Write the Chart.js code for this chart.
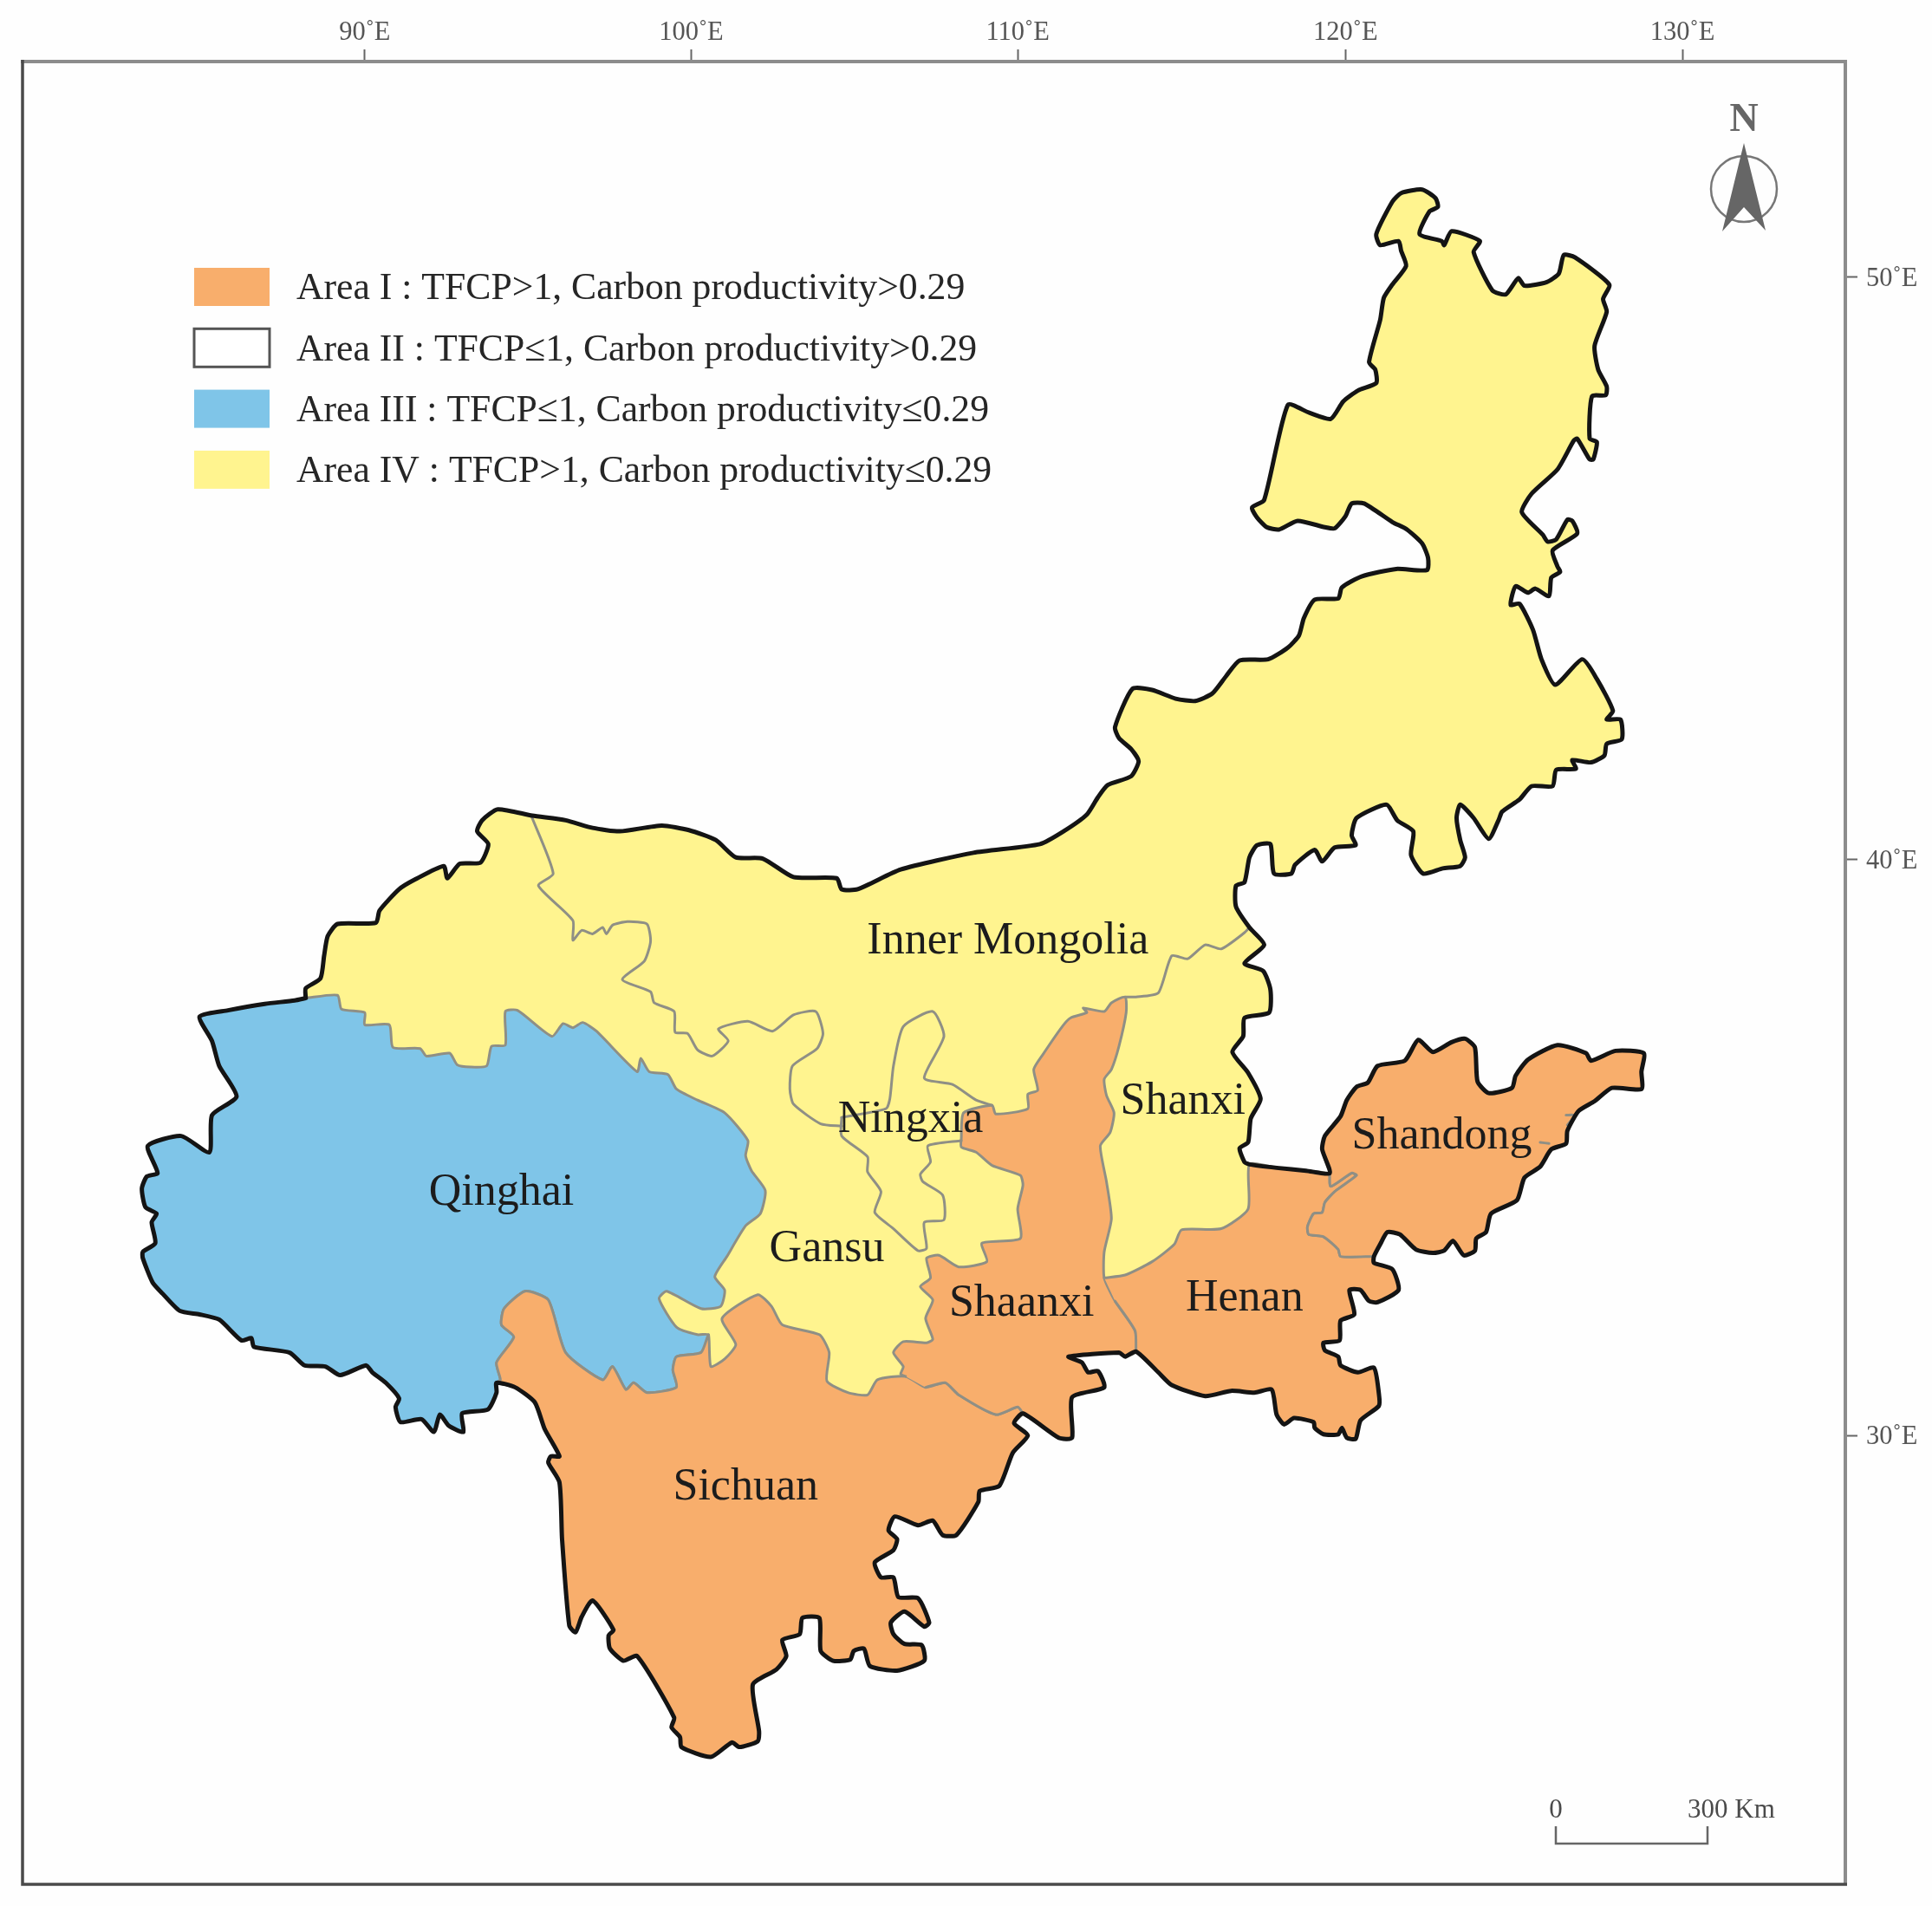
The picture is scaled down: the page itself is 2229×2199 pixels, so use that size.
<!DOCTYPE html>
<html>
<head>
<meta charset="utf-8">
<title>Carbon productivity areas</title>
<script src="https://cdn.jsdelivr.net/npm/chart.js@4"></script>
<style>
    html, body { margin: 0; padding: 0; background: #fefefe; }
    canvas { display: block; }
</style>
</head>
<body>
<canvas id="mapChart" width="2229" height="2199"></canvas>
<script>
// Axis ticks (the map projection bends the graticule a little, so ticks are not evenly spaced)
const lonTicks = [90, 99.96, 109.92, 119.92, 130.2];
const lonLabels = ['90˚E', '100˚E', '110˚E', '120˚E', '130˚E'];
const latTicks = [50, 39.94, 30];
const latLabels = ['50˚E', '40˚E', '30˚E'];

// Legend
const areaLabels = [
    'Area I : TFCP>1, Carbon productivity>0.29',
    'Area II : TFCP≤1, Carbon productivity>0.29',
    'Area III : TFCP≤1, Carbon productivity≤0.29',
    'Area IV : TFCP>1, Carbon productivity≤0.29'
];
const areaColors = ['#f8ae6c', '#ffffff', '#7fc5e8', '#fff48f'];

// Province names and where they sit, lon / lat
const regionNames = ['Inner Mongolia', 'Qinghai', 'Ningxia', 'Gansu', 'Shaanxi', 'Shanxi', 'Shandong', 'Henan', 'Sichuan'];
const regionLon = [109.62, 94.17, 106.65, 104.10, 110.04, 114.96, 122.86, 116.84, 101.62];
const regionLat = [38.57, 34.23, 35.49, 33.26, 32.32, 35.81, 35.21, 32.40, 29.15];

// Boundary pieces as [lon, lat]. Outer border runs clockwise.
const northOuter = [
    [88.20,37.55],[88.20,37.72],[88.65,37.89],[88.76,38.28],[88.87,38.62],[89.17,38.83],[90.34,38.85],[90.45,39.06],
    [91.05,39.43],[91.54,39.60],[92.41,39.83],[92.52,39.62],[92.90,39.87],[93.53,39.89],[93.77,40.21],[93.43,40.43],
    [93.58,40.62],[94.06,40.81],[95.11,40.70],[96.13,40.62],[96.95,40.49],[97.78,40.43],[99.06,40.53],[99.89,40.45],
    [100.71,40.28],[101.32,39.98],[102.14,39.96],[103.08,39.64],[104.40,39.62],[104.55,39.43],[105.04,39.43],[106.35,39.77],
    [108.57,40.06],[110.60,40.21],[111.32,40.43],[112.03,40.72],[112.37,41.02],[112.67,41.23],[113.38,41.38],[113.61,41.64],
    [113.38,41.85],[113.01,42.04],[112.89,42.23],[113.42,42.89],[114.02,42.87],[114.74,42.72],[115.34,42.68],[115.86,42.81],
    [116.28,43.11],[116.69,43.38],[117.56,43.40],[118.16,43.60],[118.50,43.81],[118.65,44.11],[118.98,44.43],[119.70,44.45],
    [119.81,44.64],[120.41,44.83],[121.47,44.96],[122.41,44.94],[122.44,45.15],[122.26,45.40],[121.80,45.64],[121.35,45.77],
    [120.49,46.09],[120.11,46.09],[119.92,45.87],[119.59,45.66],[119.29,45.68],[118.46,45.79],[117.89,45.64],[117.52,45.68],
    [117.22,45.85],[117.07,46.02],[117.44,46.15],[118.16,47.79],[118.80,47.66],[119.47,47.55],[119.85,47.85],[120.30,48.04],
    [120.86,48.17],[120.83,48.40],[120.64,48.53],[120.98,49.26],[121.09,49.64],[121.35,49.87],[121.77,50.19],[121.62,50.45],
    [121.54,50.62],[120.98,50.55],[120.86,50.74],[121.35,51.30],[121.62,51.45],[122.26,51.51],[122.67,51.36],[122.74,51.21],
    [122.48,51.13],[122.18,50.74],[122.86,50.62],[122.93,50.55],[123.16,50.79],[124.02,50.62],[123.83,50.43],[124.40,49.77],
    [124.81,49.70],[125.19,49.98],[125.38,49.85],[126.05,49.91],[126.43,50.06],[126.58,50.38],[126.92,50.34],[127.97,49.87],
    [127.78,49.62],[127.89,49.40],[127.52,48.81],[127.63,48.40],[127.89,48.11],[127.86,47.96],[127.44,47.94],[127.37,47.21],
    [127.59,47.15],[127.48,46.85],[127.37,46.85],[126.99,47.21],[126.88,47.17],[126.39,46.68],[125.60,46.26],[125.30,45.94],
    [125.94,45.55],[126.09,45.43],[126.35,45.47],[126.69,45.81],[126.84,45.79],[126.99,45.57],[126.24,45.28],[126.39,45.00],
    [126.47,44.91],[126.20,44.81],[126.13,44.49],[125.71,44.62],[125.49,44.55],[125.11,44.66],[124.96,44.34],[125.23,44.36],
    [125.64,43.91],[125.90,43.40],[126.32,42.96],[127.14,43.40],[127.59,43.06],[128.08,42.51],[127.89,42.36],[128.31,42.36],
    [128.35,42.02],[127.89,41.94],[127.82,41.74],[127.41,41.62],[126.84,41.66],[126.95,41.51],[126.35,41.49],[126.24,41.21],
    [125.60,41.21],[125.23,40.98],[124.70,40.77],[124.59,40.62],[124.29,40.30],[123.83,40.66],[123.42,40.89],[123.31,40.66],
    [123.42,40.28],[123.57,39.98],[123.42,39.83],[122.89,39.79],[122.29,39.70],[121.92,40.02],[121.99,40.43],[121.50,40.62],
    [121.17,40.89],[120.26,40.66],[120.11,40.36],[120.23,40.19],[119.59,40.15],[119.21,39.91],[118.98,40.11],[118.38,39.85],
    [118.27,39.70],[117.74,39.70],[117.63,40.21],[117.22,40.19],[116.99,39.98],[116.84,39.55],[116.58,39.49],[116.58,39.13],
    [116.99,38.77],[117.44,38.47],[116.84,38.15],[117.41,38.02],[117.63,37.70],[117.59,37.30],[116.84,37.21],[116.80,36.89],
    [116.47,36.62],[116.95,36.26],[117.33,35.81],[117.03,35.47],[116.95,35.06],[116.69,34.96],[116.84,34.72],[116.99,34.68]
];
const henanNorth = [[117.82,34.62],[118.72,34.57],[119.44,34.53]];
const shandongOuter = [
    [119.21,34.94],[119.29,35.17],[119.77,35.51],[119.96,35.79],[120.26,36.02],[120.60,36.09],[120.90,36.38],[121.73,36.47],
    [122.14,36.83],[122.59,36.62],[123.16,36.79],[123.57,36.85],[123.87,36.70],[123.95,36.11],[124.29,35.91],[125.00,36.00],
    [125.11,36.21],[125.49,36.49],[126.39,36.74],[127.26,36.60],[127.41,36.47],[128.16,36.64],[129.02,36.60],[128.95,36.28],
    [128.95,35.98],[128.05,36.00],[127.52,35.77],[127.03,35.60],[126.69,35.26],[126.65,35.04],[126.20,34.94],[125.86,34.64],
    [125.38,34.45],[125.15,34.06],[124.36,33.83],[124.21,33.51],[123.91,33.40],[123.87,33.19],[123.53,33.11],[123.20,33.36],
    [122.93,33.19],[122.59,33.15],[122.07,33.21],[121.58,33.47],[121.20,33.51],[120.98,33.30],[120.79,33.09]
];
const henanOuter = [
    [120.79,32.98],[121.35,32.87],[121.54,32.51],[120.90,32.30],[120.64,32.32],[120.38,32.51],[120.04,32.51],[120.19,32.09],
    [119.77,31.98],[119.74,31.64],[119.25,31.60],[119.29,31.47],[119.70,31.36],[119.77,31.21],[120.30,31.09],[120.79,31.17],
    [120.94,30.72],[120.94,30.51],[120.38,30.26],[120.23,29.94],[119.96,29.96],[119.81,30.13],[119.70,30.02],[119.25,30.02],
    [118.98,30.13],[118.95,30.23],[118.35,30.30],[118.05,30.19],[117.82,30.36],[117.67,30.79],[117.14,30.74],[116.43,30.77],
    [115.64,30.68],[114.62,30.87],[114.21,31.09],[113.53,31.45]
];
const shaanxiSouth = [
    [113.20,31.36],[113.01,31.43],[111.47,31.36],[111.88,31.26],[112.07,31.09],[112.37,31.11],[112.56,30.83],[111.58,30.66],
    [111.58,29.96],[111.17,29.96],[110.08,30.38]
];
const sichuanOuter = [
    [109.81,30.21],[110.23,30.00],[109.77,29.70],[109.36,29.13],[108.76,29.04],[108.72,28.85],[108.05,28.28],[107.63,28.28],
    [107.33,28.53],[106.88,28.45],[106.17,28.60],[105.98,28.36],[106.24,28.21],[106.13,28.02],[105.56,27.81],[105.75,27.55],
    [106.13,27.55],[106.28,27.21],[106.88,27.19],[107.22,26.77],[107.07,26.70],[106.47,26.96],[106.05,26.77],[106.13,26.57],
    [106.47,26.40],[106.99,26.38],[107.07,26.11],[106.24,25.94],[105.41,26.02],[105.23,26.32],[104.92,26.28],[104.81,26.13],
    [104.29,26.11],[103.91,26.28],[103.87,26.85],[103.35,26.85],[103.27,26.57],[102.74,26.47],[102.86,26.19],[102.56,25.96],
    [101.84,25.70],[102.03,24.89],[101.99,24.72],[101.43,24.62],[101.20,24.70],[100.56,24.45],[99.66,24.62],[99.62,24.79],
    [99.36,24.96],[99.44,25.13],[98.31,26.19],[97.89,26.11],[97.48,26.32],[97.44,26.55],[97.59,26.64],[96.95,27.15],
    [96.62,26.87],[96.43,26.60],[96.24,26.72],[96.02,28.21],[95.94,29.19],[95.60,29.53],[95.68,29.64],[95.94,29.64],
    [95.49,30.11],[95.19,30.57],[94.59,30.83],[94.02,30.91]
];
const qinghaiOuter = [
    [94.02,30.74],[93.76,30.45],[92.97,30.38],[93.01,30.06],[92.56,30.17],[92.29,30.36],[92.11,30.06],[91.73,30.28],
    [91.09,30.23],[90.94,30.49],[91.05,30.64],[90.64,30.91],[90.23,31.09],[90.04,31.21],[89.25,31.04],[88.80,31.19],
    [88.16,31.21],[87.71,31.43],[86.62,31.53],[86.54,31.68],[86.24,31.64],[85.56,32.00],[84.96,32.09],[84.36,32.15],
    [83.83,32.45],[83.53,32.64],[83.23,33.06],[83.23,33.17],[83.61,33.32],[83.50,33.68],[83.65,33.83],[83.31,33.94],
    [83.20,34.26],[83.35,34.47],[83.68,34.53],[83.38,35.00],[84.40,35.17],[85.26,34.89],[85.34,35.53],[86.09,35.85],
    [85.56,36.38],[85.34,36.81],[84.96,37.23],[85.83,37.34],[86.95,37.45],[87.86,37.51],[88.20,37.55]
];

// Inner boundaries
const qinghaiYellow = [
    [88.20,37.55],[89.17,37.60],[89.29,37.36],[90.00,37.30],[90.00,37.09],[90.75,37.09],[90.86,36.70],[91.69,36.68],
    [91.88,36.55],[92.59,36.60],[92.82,36.40],[93.23,36.36],[93.72,36.38],[93.87,36.72],[94.29,36.74],[94.29,37.32],
    [94.66,37.34],[95.71,36.89],[96.05,37.11],[96.35,37.04],[96.65,37.13],[97.07,36.98],[98.31,36.28],[98.42,36.51],
    [98.68,36.28],[99.25,36.23],[99.51,35.98],[100.15,35.79],[100.98,35.57],[101.69,35.09],[101.62,34.83],[101.80,34.57],
    [102.22,34.23],[102.07,33.83],[101.62,33.62],[101.05,33.09],[100.68,32.74],[100.98,32.51],[100.86,32.23],[100.26,32.19],
    [99.21,32.49],[98.98,32.36],[99.51,31.87],[100.15,31.74],[100.49,31.74]
];
const qinghaiSichuan = [
    [100.26,31.43],[99.51,31.36],[99.40,31.13],[99.51,30.83],[98.61,30.74],[98.20,30.91],[97.97,30.79],[97.56,31.19],
    [97.26,30.96],[96.13,31.43],[95.60,32.34],[94.89,32.49],[94.25,32.19],[94.17,31.91],[94.55,31.70],[94.02,31.26],
    [94.14,30.96],[94.02,30.91]
];
const sichuanYellow = [
    [100.49,31.74],[100.56,31.19],[100.98,31.32],[101.32,31.57],[100.90,32.02],[101.99,32.43],[102.41,32.23],[102.74,31.91],
    [103.87,31.74],[104.17,31.43],[104.10,30.94],[104.74,30.74],[105.34,30.70],[105.64,30.96],[106.50,31.02]
];
const sichuanShaanxi = [[107.11,30.83],[107.71,30.91],[108.12,30.70],[109.25,30.36],[109.92,30.49],[110.08,30.38]];
const shaanxiYellow = [
    [106.50,31.02],[106.35,31.06],[106.43,31.19],[106.13,31.43],[106.43,31.62],[107.14,31.60],[107.33,31.66],[107.11,32.02],
    [107.33,32.34],[106.95,32.57],[107.26,32.72],[107.14,33.06],[107.52,33.11],[108.12,32.91],[108.98,33.00],[108.83,33.32],
    [110.00,33.40],[109.92,33.91],[110.08,34.32],[110.00,34.49],[109.14,34.66],[108.65,34.89],[108.20,34.98],[108.20,35.13],
    [108.27,35.57],[109.14,35.70],[109.25,35.55],[110.23,35.64],[110.23,35.89],[110.53,35.96],[110.41,36.32],[110.68,36.57],
    [111.28,37.06],[111.54,37.21],[112.03,37.30],[111.92,37.38],[112.56,37.32],[112.78,37.47],[113.20,37.57]
];
const shaanxiShanxi = [
    [113.23,37.30],[113.01,36.72],[112.78,36.32],[112.56,36.15],[112.63,35.87],[112.86,35.57],[112.74,35.23],[112.44,35.00],
    [112.63,34.38],[112.78,33.74],[112.56,33.17],[112.56,32.72]
];
const shaanxiHenan = [[112.89,32.32],[113.50,31.81],[113.53,31.45]];
const shanxiHenan = [
    [112.56,32.72],[113.20,32.77],[114.02,33.00],[114.70,33.30],[114.92,33.55],[116.13,33.57],[116.95,33.91],[116.99,34.68]
];
const shandongHenan = [
    [119.44,34.53],[119.47,34.30],[120.11,34.53],[120.26,34.49],[119.59,34.21],[119.29,34.02],[119.21,33.85],[118.95,33.83],
    [118.76,33.60],[118.80,33.47],[119.25,33.43],[119.70,33.21],[119.77,33.09],[120.79,33.09]
];
const shanxiMongolia = [
    [113.20,37.57],[113.53,37.57],[114.21,37.64],[114.62,38.28],[115.11,38.23],[115.64,38.47],[116.13,38.40],[116.84,38.68],[116.99,38.77]
];
const gansuMongolia = [
    [95.08,40.70],[95.75,39.70],[95.30,39.49],[96.35,38.89],[96.35,38.55],[96.62,38.72],[96.95,38.66],[97.26,38.77],
    [97.37,38.66],[97.56,38.81],[98.01,38.87],[98.61,38.83],[98.72,38.53],[98.53,38.19],[97.86,37.87],[98.72,37.66],
    [98.83,37.47],[99.44,37.32],[99.47,36.96],[99.85,36.94],[100.15,36.66],[100.60,36.55],[101.09,36.81],[100.79,37.02],
    [101.69,37.15],[102.44,36.98],[103.08,37.26],[103.76,37.32],[103.98,36.94],[103.80,36.68],[103.05,36.38],[102.97,35.98],
    [103.08,35.72],[103.91,35.38],[104.55,35.34]
];
const ningxiaNorth = [
    [104.55,35.49],[105.90,35.64],[106.02,35.81],[106.13,36.38],[106.43,37.06],[107.33,37.32],[107.67,36.89],[107.07,36.17],
    [107.93,36.06],[108.65,35.79],[109.14,35.70]
];
const ningxiaSouth = [
    [104.55,35.49],[104.55,35.17],[105.34,34.81],[105.34,34.55],[105.75,34.21],[105.56,33.85],[106.13,33.57],[106.88,33.19],
    [107.14,33.23],[107.07,33.68],[107.67,33.72],[107.63,34.15],[107.03,34.38],[106.95,34.51],[107.26,34.72],[107.18,35.00],[108.20,35.09]
];
const shandongMarkA = [[125.86,35.06],[126.13,35.04]];
const shandongMarkB = [[126.65,35.53],[126.92,35.53],[126.69,35.36]];

// Whole provinces, stitched from the pieces above
const rev = path => path.slice().reverse();
const qinghai = [...qinghaiYellow, ...qinghaiSichuan, ...qinghaiOuter];
const sichuan = [...rev(qinghaiSichuan), ...sichuanYellow, ...sichuanShaanxi, ...sichuanOuter];
const shaanxi = [...shaanxiYellow, ...shaanxiShanxi, ...shaanxiHenan, ...shaanxiSouth, ...rev(sichuanShaanxi)];
const henan = [...shanxiHenan, ...henanNorth, ...shandongHenan, ...henanOuter, ...rev(shaanxiHenan)];
const shandong = [[119.44,34.53], ...shandongOuter, ...rev(shandongHenan)];
const wholeOutline = [...northOuter, ...henanNorth, ...shandongOuter, ...henanOuter, ...shaanxiSouth, ...sichuanOuter, ...qinghaiOuter];

const innerLine = '#8f8f85';
const outerLine = '#141414';

function polygon(label, path, fillColor, lineColor, lineWidth) {
    return {
        label: label,
        data: path.map(p => ({ x: p[0], y: p[1] })),
        showLine: true,
        fill: fillColor ? 'shape' : false,
        backgroundColor: fillColor || 'transparent',
        borderColor: lineColor,
        borderWidth: lineWidth,
        borderJoinStyle: 'round',
        borderCapStyle: 'round',
        pointRadius: 0,
        tension: 0.2
    };
}

// Painter order, first entry lies at the bottom
const layers = [
    polygon('Base', wholeOutline, areaColors[3], 'transparent', 0),
    polygon('Qinghai', qinghai, areaColors[2], innerLine, 3),
    polygon('Sichuan', sichuan, areaColors[0], innerLine, 3),
    polygon('Shaanxi', shaanxi, areaColors[0], innerLine, 3),
    polygon('Henan', henan, areaColors[0], innerLine, 3),
    polygon('Shandong', shandong, areaColors[0], innerLine, 3),
    polygon('Shanxi north', shanxiMongolia, null, innerLine, 3),
    polygon('Gansu north', gansuMongolia, null, innerLine, 3),
    polygon('Ningxia north', ningxiaNorth, null, innerLine, 3),
    polygon('Ningxia south', ningxiaSouth, null, innerLine, 3),
    polygon('Mark A', shandongMarkA, null, innerLine, 3),
    polygon('Mark B', shandongMarkB, null, innerLine, 3),
    polygon('Outline', wholeOutline, null, outerLine, 5)
];

// Everything around the marks: frame, province names, legend, north arrow, scale bar
const mapDecor = {
    id: 'mapDecor',
    afterDraw(chart) {
        const ctx = chart.ctx;
        const area = chart.chartArea;
        const xs = chart.scales.x;
        const ys = chart.scales.y;
        ctx.save();

        // left and bottom of the frame are darker than the axis sides
        ctx.strokeStyle = '#4a4a4a';
        ctx.lineWidth = 3.5;
        ctx.beginPath();
        ctx.moveTo(area.left, area.top - 2);
        ctx.lineTo(area.left, area.bottom);
        ctx.lineTo(area.right + 2, area.bottom);
        ctx.stroke();

        ctx.fillStyle = '#1c1c1c';
        ctx.font = '52px "Liberation Serif"';
        ctx.textAlign = 'center';
        ctx.textBaseline = 'middle';
        regionNames.forEach((name, i) => {
            ctx.fillText(name, xs.getPixelForValue(regionLon[i]), ys.getPixelForValue(regionLat[i]) + 3);
        });

        // legend
        ctx.textAlign = 'left';
        ctx.font = '43.7px "Liberation Serif"';
        areaLabels.forEach((text, i) => {
            const top = 309 + i * 70.3;
            ctx.fillStyle = areaColors[i];
            ctx.fillRect(224, top, 87, 44);
            if (i === 1) {
                ctx.strokeStyle = '#555555';
                ctx.lineWidth = 3;
                ctx.strokeRect(224, top, 87, 44);
            }
            ctx.fillStyle = '#262626';
            ctx.fillText(text, 342, top + 25);
        });

        // north arrow
        ctx.fillStyle = '#666666';
        ctx.strokeStyle = '#777777';
        ctx.lineWidth = 2.5;
        ctx.beginPath();
        ctx.arc(2012, 218, 38, 0, Math.PI * 2);
        ctx.stroke();
        ctx.beginPath();
        ctx.moveTo(2012, 165);
        ctx.lineTo(2037, 266);
        ctx.lineTo(2012, 239);
        ctx.lineTo(1987, 267);
        ctx.closePath();
        ctx.fill();
        ctx.textAlign = 'center';
        ctx.font = 'bold 46px "Liberation Serif"';
        ctx.fillText('N', 2012, 139);

        // scale bar
        ctx.strokeStyle = '#666666';
        ctx.lineWidth = 2.5;
        ctx.beginPath();
        ctx.moveTo(1795, 2107);
        ctx.lineTo(1795, 2127);
        ctx.lineTo(1970, 2127);
        ctx.lineTo(1970, 2107);
        ctx.stroke();
        ctx.fillStyle = '#4a4a4a';
        ctx.font = '31px "Liberation Serif"';
        ctx.fillText('0', 1795, 2089);
        ctx.textAlign = 'left';
        ctx.fillText('300 Km', 1947, 2089);

        ctx.restore();
    }
};

document.addEventListener('DOMContentLoaded', function () {
    const ctx = document.getElementById('mapChart').getContext('2d');

    new Chart(ctx, {
        type: 'scatter',
        data: { datasets: layers.slice().reverse() },
        plugins: [mapDecor],
        options: {
            responsive: false,
            animation: false,
            devicePixelRatio: 1,
            layout: { padding: { left: 26, bottom: 25, top: 0, right: 0 } },
            plugins: {
                legend: { display: false },
                tooltip: { enabled: false }
            },
            scales: {
                x: {
                    type: 'linear',
                    position: 'top',
                    min: 79.56,
                    max: 135.17,
                    // the frame is fixed, tick labels must not push it around
                    afterFit: scale => { scale.height = 71; scale.paddingLeft = 0; scale.paddingRight = 0; },
                    afterBuildTicks: scale => { scale.ticks = lonTicks.map(v => ({ value: v })); },
                    border: { display: true, color: '#8c8c8c', width: 4 },
                    grid: { drawOnChartArea: false, tickLength: 14, tickColor: '#666666', tickWidth: 2 },
                    ticks: {
                        autoSkip: false,
                        maxRotation: 0,
                        padding: 1,
                        color: '#555555',
                        font: { family: '"Liberation Serif"', size: 30.5 },
                        callback: (value, i) => lonLabels[i]
                    }
                },
                y: {
                    type: 'linear',
                    position: 'right',
                    min: 22.25,
                    max: 53.72,
                    afterFit: scale => { scale.width = 100; scale.paddingTop = 0; scale.paddingBottom = 0; },
                    afterBuildTicks: scale => { scale.ticks = latTicks.map(v => ({ value: v })); },
                    border: { display: true, color: '#8c8c8c', width: 4 },
                    grid: { drawOnChartArea: false, tickLength: 14, tickColor: '#666666', tickWidth: 2 },
                    ticks: {
                        autoSkip: false,
                        padding: 10,
                        labelOffset: 2,
                        color: '#555555',
                        font: { family: '"Liberation Serif"', size: 30.5 },
                        callback: (value, i) => latLabels[i]
                    }
                }
            }
        }
    });
});
</script>
</body>
</html>
